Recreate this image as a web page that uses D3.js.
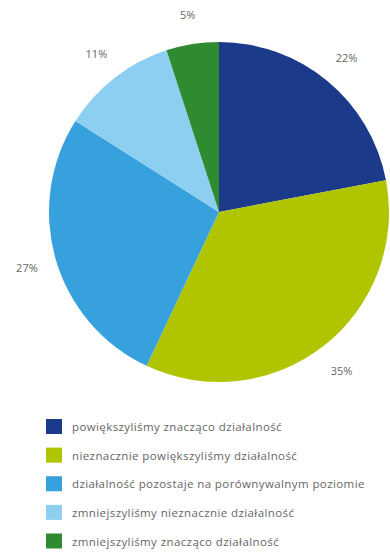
<!DOCTYPE html>
<html>
<head>
<meta charset="utf-8">
<script src="https://cdn.jsdelivr.net/npm/d3@7"></script>
<style>
  html, body { margin: 0; padding: 0; background: #fff; }
  svg { display: block; }
</style>
</head>
<body>
<svg id="chart" width="390" height="552"></svg>
<script>
// Survey answers: change in business activity
const categories = [
  "powiększyliśmy znacząco działalność",
  "nieznacznie powiększyliśmy działalność",
  "działalność pozostaje na porównywalnym poziomie",
  "zmniejszyliśmy nieznacznie działalność",
  "zmniejszyliśmy znacząco działalność"
];
const shares = [22, 35, 27, 11, 5];
const colors = ["#1b3a8a", "#b1c400", "#36a1dc", "#8dcff0", "#2e8b30"];

const svg = d3.select("#chart");
const cx = 219, cy = 212, radius = 170, labelRadius = 200;

const color = d3.scaleOrdinal().domain(categories).range(colors);

const pie = d3.pie().sort(null).value(d => d.value);
const data = categories.map((c, i) => ({ name: c, value: shares[i] }));
const arcs = pie(data);

const arc = d3.arc().innerRadius(0).outerRadius(radius);
const labelArc = d3.arc().innerRadius(labelRadius).outerRadius(labelRadius);

const g = svg.append("g").attr("transform", `translate(${cx},${cy})`);

g.selectAll("path.slice")
  .data(arcs)
  .join("path")
  .attr("class", "slice")
  .attr("d", arc)
  .attr("fill", d => color(d.data.name));

g.selectAll("text.pct")
  .data(arcs)
  .join("text")
  .attr("class", "pct")
  .attr("transform", d => `translate(${labelArc.centroid(d)})`)
  .attr("text-anchor", "middle")
  .attr("dominant-baseline", "central")
  .attr("font-family", "'Open Sans', sans-serif")
  .attr("font-size", 11)
  .attr("fill", "#666")
  .text(d => d.data.value + "%");

// Legend
const legendY = d3.scalePoint().domain(categories).range([426.5, 541]);
const legend = svg.append("g");
const rows = legend.selectAll("g.row")
  .data(categories)
  .join("g")
  .attr("class", "row")
  .attr("transform", d => `translate(46,${legendY(d)})`);

rows.append("rect")
  .attr("x", 0).attr("y", -7.5)
  .attr("width", 16).attr("height", 15)
  .attr("fill", d => color(d));

rows.append("text")
  .attr("x", 26)
  .attr("dominant-baseline", "central")
  .attr("font-family", "'Open Sans', sans-serif")
  .attr("font-size", 11.5)
  .attr("letter-spacing", 0.4)
  .attr("fill", "#666")
  .text(d => d);
</script>
</body>
</html>
